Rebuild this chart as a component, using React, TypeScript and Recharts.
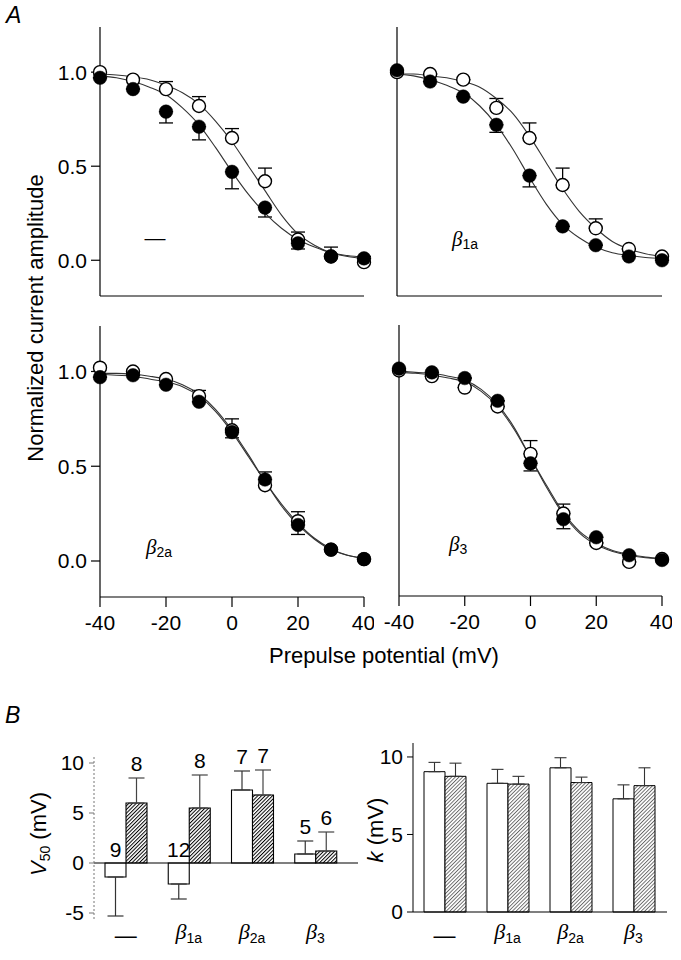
import React from "react";
import {
  ComposedChart,
  Line,
  Scatter,
  ErrorBar,
  XAxis,
  YAxis,
  BarChart,
  Bar,
  LabelList,
  ReferenceLine,
} from "recharts";

const FONT = '"Liberation Sans", Arial, Helvetica, sans-serif';
const SERIF = '"Liberation Serif", "Times New Roman", serif';

// ---- panel A: steady-state inactivation ----
const potentials = [-40, -30, -20, -10, 0, 10, 20, 30, 40];
const fitPotentials = [-40, -35, -30, -25, -20, -15, -10, -5, 0, 5, 10, 15, 20, 25, 30, 35, 40];
const potentialTicks = [-40, -20, 0, 20, 40];
const amplitudeTicks = [0, 0.5, 1.0];

// no beta subunit (—)
const noBetaOpen = [1.0, 0.96, 0.91, 0.82, 0.65, 0.42, 0.11, 0.02, -0.01];
const noBetaOpenErr = [0, 0, 0.04, 0.05, 0.05, 0.07, 0.04, 0.05, 0.03];
const noBetaFilled = [0.97, 0.91, 0.79, 0.71, 0.47, 0.28, 0.09, 0.02, 0.01];
const noBetaFilledErr = [0, 0, 0.06, 0.07, 0.09, 0.05, 0.03, 0, 0];
const noBetaOpenFit = [0.99, 0.985, 0.975, 0.96, 0.93, 0.89, 0.83, 0.74, 0.63, 0.5, 0.37, 0.24, 0.14, 0.08, 0.04, 0.02, 0.01];
const noBetaFilledFit = [0.98, 0.97, 0.95, 0.92, 0.88, 0.81, 0.72, 0.6, 0.47, 0.35, 0.25, 0.17, 0.11, 0.07, 0.04, 0.025, 0.015];

// beta1a
const b1aOpen = [1.0, 0.99, 0.96, 0.81, 0.65, 0.4, 0.17, 0.06, 0.02];
const b1aOpenErr = [0, 0, 0, 0.05, 0.08, 0.09, 0.05, 0, 0];
const b1aFilled = [1.01, 0.95, 0.87, 0.72, 0.45, 0.18, 0.08, 0.02, 0.0];
const b1aFilledErr = [0, 0, 0, 0.04, 0.06, 0, 0, 0, 0];
const b1aOpenFit = [0.99, 0.99, 0.98, 0.97, 0.95, 0.92, 0.86, 0.78, 0.66, 0.52, 0.38, 0.26, 0.17, 0.1, 0.06, 0.035, 0.02];
const b1aFilledFit = [0.99, 0.98, 0.96, 0.93, 0.89, 0.82, 0.72, 0.59, 0.44, 0.3, 0.19, 0.12, 0.07, 0.04, 0.025, 0.015, 0.01];

// beta2a
const b2aOpen = [1.02, 1.0, 0.96, 0.87, 0.69, 0.4, 0.21, 0.06, 0.01];
const b2aOpenErr = [0, 0, 0, 0.03, 0.06, 0.07, 0.05, 0, 0];
const b2aFilled = [0.97, 0.98, 0.93, 0.84, 0.68, 0.43, 0.19, 0.06, 0.01];
const b2aFilledErr = [0, 0, 0, 0, 0.03, 0, 0.05, 0, 0];
const b2aOpenFit = [0.99, 0.99, 0.985, 0.975, 0.96, 0.93, 0.88, 0.8, 0.69, 0.56, 0.42, 0.3, 0.2, 0.12, 0.065, 0.03, 0.015];
const b2aFilledFit = [0.985, 0.98, 0.975, 0.96, 0.945, 0.92, 0.87, 0.79, 0.68, 0.55, 0.42, 0.29, 0.19, 0.115, 0.06, 0.03, 0.012];

// beta3
const b3Open = [1.0, 0.97, 0.91, 0.81, 0.56, 0.245, 0.09, -0.01, 0.005];
const b3OpenErr = [0, 0, 0, 0, 0.07, 0.05, 0, 0, 0];
const b3Filled = [1.01, 0.99, 0.96, 0.84, 0.51, 0.215, 0.12, 0.025, 0.0];
const b3FilledErr = [0, 0, 0, 0, 0.04, 0.05, 0, 0, 0];
const b3OpenFit = [1.0, 0.99, 0.985, 0.97, 0.95, 0.9, 0.82, 0.7, 0.54, 0.38, 0.24, 0.14, 0.08, 0.045, 0.025, 0.012, 0.007];
const b3FilledFit = [0.99, 0.985, 0.975, 0.96, 0.94, 0.89, 0.81, 0.69, 0.54, 0.39, 0.25, 0.15, 0.09, 0.05, 0.03, 0.015, 0.008];

// ---- panel B: fit parameters ----
const subunits = ["—", "β1a", "β2a", "β3"];
const v50White = [-1.4, -2.1, 7.3, 0.9];
const v50WhiteErr = [3.9, 1.5, 1.9, 1.3];
const v50Hatched = [6.0, 5.5, 6.8, 1.2];
const v50HatchedErr = [2.5, 3.3, 2.5, 1.9];
const nWhite = [9, 12, 7, 5];
const nHatched = [8, 8, 7, 6];
const kWhite = [9.05, 8.3, 9.3, 7.3];
const kWhiteErr = [0.6, 0.9, 0.65, 0.9];
const kHatched = [8.75, 8.25, 8.35, 8.15];
const kHatchedErr = [0.85, 0.5, 0.35, 1.15];

const line = (ys: number[]) => ys.map((y, i) => ({ v: fitPotentials[i], y }));
const points = (ys: number[]) => ys.map((y, i) => ({ v: potentials[i], y }));
const errPoints = (ys: number[], errs: number[], up: boolean) =>
  ys.map((y, i) => ({ v: potentials[i], y, err: up ? [0, errs[i]] : [errs[i], 0] }));

const axisStroke = { stroke: "#000", strokeWidth: 1.2 };
const tickFont = { fontSize: 21, fill: "#000", fontFamily: FONT };

interface PanelProps {
  plot: { x: number; y: number; w: number; h: number };
  yLabels: boolean;
  xLabels: boolean;
  open: number[];
  openErr: number[];
  filled: number[];
  filledErr: number[];
  openFit: number[];
  filledFit: number[];
}

const Y_W = 100;
const X_H = 45;

const InactivationPanel: React.FC<PanelProps> = ({ plot, yLabels, xLabels, open, openErr, filled, filledErr, openFit, filledFit }) => (
  <div style={{ position: "absolute", left: plot.x - Y_W, top: plot.y - 4 }}>
    <ComposedChart width={Y_W + plot.w + 10} height={4 + plot.h + X_H} margin={{ top: 4, right: 10, bottom: 0, left: 0 }}>
      <XAxis
        type="number"
        dataKey="v"
        domain={[-40, 40]}
        ticks={potentialTicks}
        height={X_H}
        tickSize={10}
        tickMargin={8}
        tick={xLabels ? tickFont : false}
        axisLine={axisStroke}
        tickLine={axisStroke}
      />
      <YAxis
        type="number"
        dataKey="y"
        domain={[-0.19, 1.24]}
        ticks={amplitudeTicks}
        width={Y_W}
        tickSize={9}
        tickMargin={4}
        tickFormatter={(t: number) => t.toFixed(1)}
        tick={yLabels ? tickFont : false}
        axisLine={axisStroke}
        tickLine={axisStroke}
      />
      <Scatter data={errPoints(open, openErr, true)} shape={() => <g />} isAnimationActive={false}>
        <ErrorBar dataKey="err" direction="y" width={7} stroke="#000" strokeWidth={1.3} />
      </Scatter>
      <Scatter data={errPoints(filled, filledErr, false)} shape={() => <g />} isAnimationActive={false}>
        <ErrorBar dataKey="err" direction="y" width={7} stroke="#000" strokeWidth={1.3} />
      </Scatter>
      <Line data={line(openFit)} dataKey="y" type="monotone" stroke="#333" strokeWidth={1.1} dot={false} isAnimationActive={false} />
      <Line data={line(filledFit)} dataKey="y" type="monotone" stroke="#333" strokeWidth={1.1} dot={false} isAnimationActive={false} />
      <Scatter
        data={points(open)}
        isAnimationActive={false}
        shape={(p: any) => <circle cx={p.cx} cy={p.cy} r={6.5} fill="#fff" stroke="#000" strokeWidth={1.4} />}
      />
      <Scatter
        data={points(filled)}
        isAnimationActive={false}
        shape={(p: any) => <circle cx={p.cx} cy={p.cy} r={6.8} fill="#000" stroke="#000" strokeWidth={0.5} />}
      />
    </ComposedChart>
  </div>
);

const SubunitTick = (props: any) => {
  const { x, y, payload } = props;
  const label: string = payload.value;
  if (label === "—") {
    return (
      <text x={x} y={y + 11} textAnchor="middle" fontSize={22} fontFamily={FONT} fill="#000">
        —
      </text>
    );
  }
  return (
    <text x={x} y={y + 7} textAnchor="middle" fill="#000">
      <tspan fontFamily={SERIF} fontStyle="italic" fontSize={22}>β</tspan>
      <tspan fontFamily={FONT} fontSize={14} dy={4}>{label.slice(1)}</tspan>
    </text>
  );
};

const nLabel = (values: number[], errs: number[], ns: number[]) => (props: any) => {
  const vb = props.viewBox && props.viewBox.width != null ? props.viewBox : props;
  const { x, y, width, height } = vb;
  const i = props.index;
  const top = Math.min(y, y + height);
  const h = Math.abs(height);
  const v = values[i];
  const labelY = v > 0 ? top - (errs[i] * h) / v - 7 : top - 6;
  return (
    <text x={x + width / 2} y={labelY} textAnchor="middle" fontSize={21} fontFamily={FONT} fill="#000">
      {ns[i]}
    </text>
  );
};

const v50Data = subunits.map((s, i) => ({
  s,
  white: v50White[i],
  whiteErr: v50White[i] >= 0 ? [0, v50WhiteErr[i]] : [v50WhiteErr[i], 0],
  hatched: v50Hatched[i],
  hatchedErr: [0, v50HatchedErr[i]],
}));

const kData = subunits.map((s, i) => ({
  s,
  white: kWhite[i],
  whiteErr: [0, kWhiteErr[i]],
  hatched: kHatched[i],
  hatchedErr: [0, kHatchedErr[i]],
}));

const V50_TOP = 24;

const V50Chart = () => (
  <div style={{ position: "absolute", left: 0, top: 757 - V50_TOP }}>
    <BarChart width={94 + 264 + 10} height={V50_TOP + 163 + 40} data={v50Data} barSize={21} barGap={0} margin={{ top: V50_TOP, right: 10, bottom: 0, left: 0 }}>
      <XAxis
        dataKey="s"
        type="category"
        padding={{ left: 0, right: 11 }}
        axisLine={false}
        tickLine={false}
        tickSize={0}
        tickMargin={12}
        height={40}
        interval={0}
        tick={SubunitTick}
      />
      <YAxis
        type="number"
        domain={[-5.7, 10.6]}
        ticks={[-5, 0, 5, 10]}
        width={94}
        tickSize={5}
        tickMargin={5}
        tick={tickFont}
        axisLine={{ stroke: "#777", strokeWidth: 1, strokeDasharray: "2 2" }}
        tickLine={{ stroke: "#777", strokeWidth: 1 }}
      />
      <ReferenceLine y={0} stroke="#000" strokeWidth={1.2} />
      <Bar dataKey="white" fill="#fff" stroke="#000" strokeWidth={1.1} isAnimationActive={false}>
        <ErrorBar dataKey="whiteErr" width={8} stroke="#333" strokeWidth={1.2} />
        <LabelList dataKey="white" content={nLabel(v50White, v50WhiteErr, nWhite)} />
      </Bar>
      <Bar dataKey="hatched" fill="url(#hatchDark)" stroke="#000" strokeWidth={1.1} isAnimationActive={false}>
        <ErrorBar dataKey="hatchedErr" width={8} stroke="#444" strokeWidth={1.2} />
        <LabelList dataKey="hatched" content={nLabel(v50Hatched, v50HatchedErr, nHatched)} />
      </Bar>
    </BarChart>
  </div>
);

const KChart = () => (
  <div style={{ position: "absolute", left: 413 - 60, top: 743 - 4 }}>
    <BarChart width={60 + 254 + 10} height={4 + 169 + 49} data={kData} barSize={21} barGap={0} margin={{ top: 4, right: 10, bottom: 0, left: 0 }}>
      <XAxis
        dataKey="s"
        type="category"
        padding={{ left: 0, right: 2 }}
        axisLine={axisStroke}
        tickLine={false}
        tickSize={0}
        tickMargin={20}
        height={49}
        interval={0}
        tick={SubunitTick}
      />
      <YAxis
        type="number"
        domain={[0, 10.9]}
        ticks={[0, 5, 10]}
        width={60}
        tickSize={6}
        tickMargin={4}
        tick={tickFont}
        axisLine={{ stroke: "#000", strokeWidth: 1 }}
        tickLine={{ stroke: "#000", strokeWidth: 1 }}
      />
      <Bar dataKey="white" fill="#fff" stroke="#000" strokeWidth={1} isAnimationActive={false}>
        <ErrorBar dataKey="whiteErr" width={6} stroke="#333" strokeWidth={1.1} />
      </Bar>
      <Bar dataKey="hatched" fill="url(#hatchLight)" stroke="#000" strokeWidth={1} isAnimationActive={false}>
        <ErrorBar dataKey="hatchedErr" width={6} stroke="#333" strokeWidth={1.1} />
      </Bar>
    </BarChart>
  </div>
);

const Beta = ({ x, y, sub }: { x: number; y: number; sub: string }) => (
  <text x={x} y={y} fill="#000">
    <tspan fontFamily={SERIF} fontStyle="italic" fontSize={21}>β</tspan>
    <tspan fontFamily={FONT} fontSize={14} dy={3}>{sub}</tspan>
  </text>
);

export default function App() {
  return (
    <div style={{ position: "absolute", left: 0, top: 0, width: 681, height: 960, background: "#fff", fontFamily: FONT, overflow: "hidden" }}>
      <InactivationPanel plot={{ x: 100, y: 27, w: 264, h: 269 }} yLabels xLabels={false}
        open={noBetaOpen} openErr={noBetaOpenErr} filled={noBetaFilled} filledErr={noBetaFilledErr} openFit={noBetaOpenFit} filledFit={noBetaFilledFit} />
      <InactivationPanel plot={{ x: 397, y: 27, w: 265, h: 269 }} yLabels={false} xLabels={false}
        open={b1aOpen} openErr={b1aOpenErr} filled={b1aFilled} filledErr={b1aFilledErr} openFit={b1aOpenFit} filledFit={b1aFilledFit} />
      <InactivationPanel plot={{ x: 100, y: 326, w: 264, h: 271 }} yLabels xLabels
        open={b2aOpen} openErr={b2aOpenErr} filled={b2aFilled} filledErr={b2aFilledErr} openFit={b2aOpenFit} filledFit={b2aFilledFit} />
      <InactivationPanel plot={{ x: 399, y: 325, w: 263, h: 271 }} yLabels={false} xLabels
        open={b3Open} openErr={b3OpenErr} filled={b3Filled} filledErr={b3FilledErr} openFit={b3OpenFit} filledFit={b3FilledFit} />
      <V50Chart />
      <KChart />
      <svg width={681} height={960} style={{ position: "absolute", left: 0, top: 0, pointerEvents: "none" }}>
        <defs>
          <pattern id="hatchDark" patternUnits="userSpaceOnUse" width={2.6} height={2.6} patternTransform="rotate(45)">
            <rect width={2.6} height={2.6} fill="#fff" />
            <line x1={0.5} y1={0} x2={0.5} y2={2.6} stroke="#000" strokeWidth={1} />
          </pattern>
          <pattern id="hatchLight" patternUnits="userSpaceOnUse" width={2.6} height={2.6} patternTransform="rotate(45)">
            <rect width={2.6} height={2.6} fill="#fff" />
            <line x1={0.5} y1={0} x2={0.5} y2={2.6} stroke="#333" strokeWidth={0.7} />
          </pattern>
        </defs>
        <text x={6} y={23} fontSize={23} fontStyle="italic" fontFamily={FONT}>A</text>
        <text x={5} y={723} fontSize={23} fontStyle="italic" fontFamily={FONT}>B</text>
        <text transform="translate(43,318) rotate(-90)" textAnchor="middle" fontSize={22} fontFamily={FONT}>
          Normalized current amplitude
        </text>
        <text x={384} y={663} textAnchor="middle" fontSize={22} fontFamily={FONT}>Prepulse potential (mV)</text>
        <text x={155} y={245} textAnchor="middle" fontSize={21} fontFamily={FONT}>—</text>
        <Beta x={452} y={246} sub="1a" />
        <Beta x={146} y={554} sub="2a" />
        <Beta x={449} y={551} sub="3" />
        <text transform="translate(46,834) rotate(-90)" textAnchor="middle" fontFamily={FONT} fontSize={22}>
          <tspan fontStyle="italic">V</tspan>
          <tspan fontSize={14} dy={4}>50</tspan>
          <tspan dy={-4}> (mV)</tspan>
        </text>
        <text transform="translate(383,830) rotate(-90)" textAnchor="middle" fontFamily={FONT} fontSize={22}>
          <tspan fontStyle="italic">k</tspan>
          <tspan> (mV)</tspan>
        </text>
      </svg>
    </div>
  );
}
